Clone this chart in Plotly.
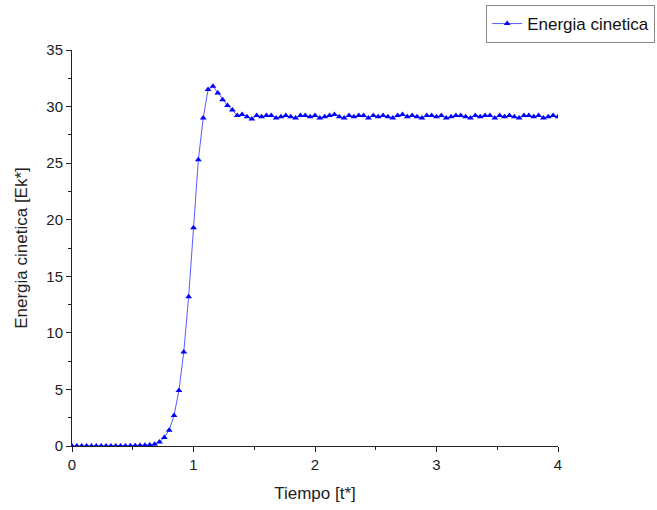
import plotly.graph_objects as go

# Data
dt = 0.04
n_points = 101
tiempo = [round(i * dt, 2) for i in range(n_points)]

energia_inicio = [0.0, 0.0, 0.0, 0.0, 0.0, 0.0, 0.0, 0.0, 0.0, 0.01,
                  0.01, 0.01, 0.02, 0.03, 0.04, 0.06]
energia_subida = [0.09, 0.15, 0.35, 0.75, 1.4, 2.7, 4.9, 8.3, 13.2, 19.3,
                  25.3, 29.0, 31.5, 31.8, 31.2, 30.6, 30.1, 29.7, 29.2, 29.3,
                  29.1, 28.9]
energia_meseta = [29.2, 29.1, 29.2, 29.2, 29.0, 29.1, 29.2, 29.1, 29.0, 29.2,
                  29.2, 29.1, 29.2, 29.0, 29.1, 29.2, 29.3, 29.1, 29.0, 29.2,
                  29.1, 29.2, 29.2, 29.0, 29.2, 29.1, 29.2, 29.1, 29.0, 29.2,
                  29.3, 29.1, 29.2, 29.1, 29.0, 29.2, 29.2, 29.1, 29.2, 29.0,
                  29.1, 29.2, 29.2, 29.1, 29.0, 29.2, 29.1, 29.2, 29.2, 29.0,
                  29.2, 29.1, 29.2, 29.1, 29.0, 29.2, 29.2, 29.1, 29.2, 29.0,
                  29.1, 29.2, 29.1]
energia = energia_inicio + energia_subida + energia_meseta

x_ticks = [0, 1, 2, 3, 4]
y_ticks = [0, 5, 10, 15, 20, 25, 30, 35]

fig = go.Figure()
fig.add_trace(go.Scatter(
    x=tiempo, y=energia, mode="lines+markers", name="Energia cinetica",
    line=dict(color="#5a5aff", width=1),
    marker=dict(symbol="triangle-up", size=6, color="#0000ff"),
))

font_family = "Liberation Sans, Arial, sans-serif"
fig.update_layout(
    width=657, height=510,
    margin=dict(l=72, r=99, t=50, b=64, autoexpand=False),
    paper_bgcolor="white", plot_bgcolor="white",
    font=dict(family=font_family, color="#222222", size=15),
    showlegend=True,
    legend=dict(x=1.2, y=1.1136, xanchor="right", yanchor="top",
                bordercolor="#888888", borderwidth=1, bgcolor="white",
                font=dict(size=17, color="#111111"),
                itemwidth=30, tracegroupgap=0),
)
fig.update_xaxes(
    range=[0, 4], tickvals=x_ticks, showgrid=False, zeroline=False,
    showline=True, linecolor="#222222", linewidth=1,
    ticks="outside", ticklen=5, tickcolor="#222222",
    minor=dict(ticks="outside", ticklen=3, dtick=0.5, tickcolor="#222222"),
    title=dict(text="Tiempo [t*]", font=dict(size=17), standoff=15),
    tickfont=dict(size=15),
)
fig.update_yaxes(
    range=[0, 35], tickvals=y_ticks, showgrid=False, zeroline=False,
    showline=True, linecolor="#222222", linewidth=1,
    ticks="outside", ticklen=5, tickcolor="#222222",
    minor=dict(ticks="outside", ticklen=3, dtick=2.5, tickcolor="#222222"),
    title=dict(text="Energia cinetica [Ek*]", font=dict(size=17), standoff=14),
    tickfont=dict(size=15),
)

fig.write_html("out.html",
               config={"displayModeBar": False},
               post_script="document.body.style.margin='0';document.body.style.overflow='hidden';")
